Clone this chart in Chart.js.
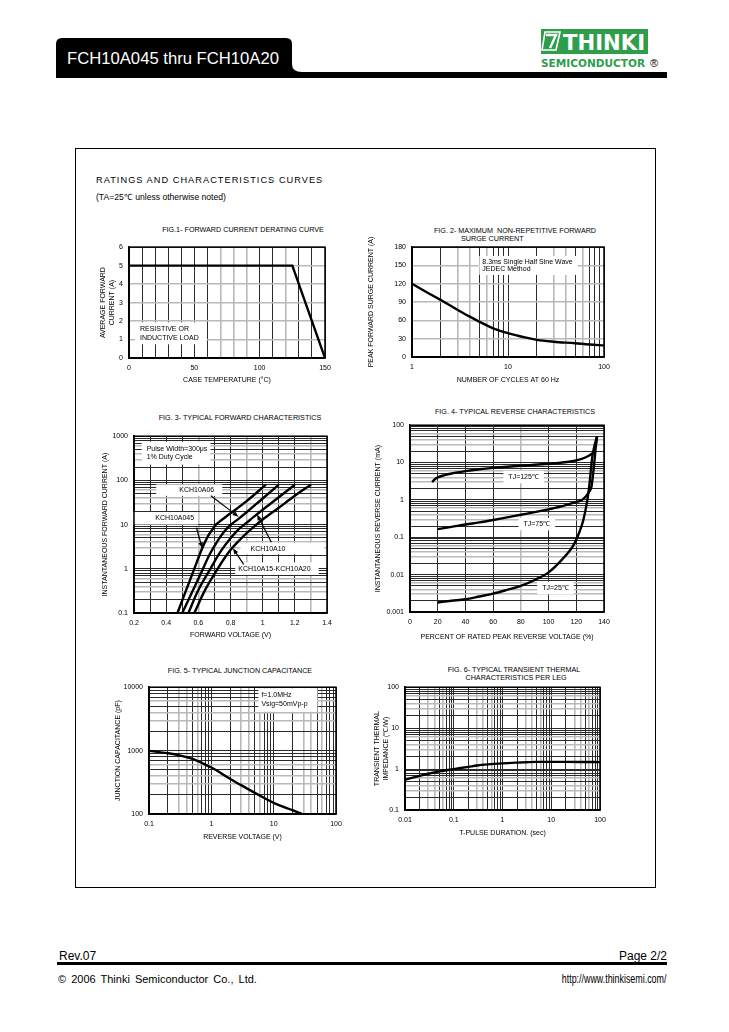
<!DOCTYPE html>
<html>
<head>
<meta charset="utf-8">
<script src="https://cdn.jsdelivr.net/npm/chart.js@4.4.1/dist/chart.umd.min.js"></script>
<style>
  body { margin: 0; background: #fff; font-family: "Liberation Sans", Arial, sans-serif; color: #000; }
  #page { position: relative; width: 729px; height: 1032px; overflow: hidden; }
  .abs { position: absolute; white-space: nowrap; }
  .ft { font-size: 7.2px; transform: translate(-50%, -50%); }
  canvas { position: absolute; }
</style>
</head>
<body>
<div id="page">
  <svg class="abs" style="left:0;top:0" width="729" height="90">
    <path d="M56 78 V44 Q56 38 62 38 H286 Q292 38 292 44 V64 Q292 72 302 72 H667 V78 Z" fill="#000"/>
    <text x="67" y="64" fill="#fff" font-size="16" font-family="Liberation Sans, Arial" textLength="212" lengthAdjust="spacingAndGlyphs">FCH10A045 thru FCH10A20</text>
    <rect x="541" y="29" width="107" height="25" fill="#2f9e4b"/>
    <path d="M545 32 H560 L556 50 H542 Z" fill="none" stroke="#fff" stroke-width="1.6"/>
    <path d="M546 35 H556 L550 48" fill="none" stroke="#fff" stroke-width="2.4"/>
    <text x="563" y="50" fill="#fff" font-size="21" font-weight="bold" font-family="DejaVu Sans, Arial" textLength="82" lengthAdjust="spacingAndGlyphs">THINKI</text>
    <text x="541" y="67" fill="#2f9e4b" font-size="10" font-weight="bold" font-family="DejaVu Sans, Arial" textLength="104" lengthAdjust="spacingAndGlyphs">SEMICONDUCTOR</text>
    <text x="650" y="67" fill="#000" font-size="11" font-family="Liberation Sans, Arial">®</text>
  </svg>

  <div class="abs" style="left:75px;top:148px;width:579px;height:738px;border:1px solid #000;"></div>
  <div class="abs" style="left:96px;top:175px;font-size:9.2px;letter-spacing:1.05px;">RATINGS AND CHARACTERISTICS CURVES</div>
  <div class="abs" style="left:96px;top:191px;font-size:8.6px;">(TA=25℃ unless otherwise noted)</div>

  <div class="abs ft" style="left:243px;top:229px;">FIG.1- FORWARD CURRENT DERATING CURVE</div>
  <div class="abs ft" style="left:515px;top:230px;">FIG. 2- MAXIMUM&nbsp; NON-REPETITIVE FORWARD</div>
  <div class="abs" style="left:461px;top:234px;font-size:7.2px;">SURGE CURRENT</div>
  <div class="abs ft" style="left:240px;top:417px;">FIG. 3- TYPICAL FORWARD CHARACTERISTICS</div>
  <div class="abs ft" style="left:515px;top:411px;">FIG. 4- TYPICAL REVERSE CHARACTERISTICS</div>
  <div class="abs ft" style="left:240px;top:670px;">FIG. 5- TYPICAL JUNCTION CAPACITANCE</div>
  <div class="abs ft" style="left:514px;top:669px;">FIG. 6- TYPICAL TRANSIENT THERMAL</div>
  <div class="abs ft" style="left:516px;top:677px;">CHARACTERISTICS PER LEG</div>

  <canvas id="fig1"></canvas>
  <canvas id="fig2"></canvas>
  <canvas id="fig3"></canvas>
  <canvas id="fig4"></canvas>
  <canvas id="fig5"></canvas>
  <canvas id="fig6"></canvas>

  <div class="abs" style="left:59px;top:949px;font-size:12px;">Rev.07</div>
  <div class="abs" style="right:62px;top:949px;font-size:12px;">Page 2/2</div>
  <div class="abs" style="left:57px;top:962px;width:610px;height:3px;background:#000;"></div>
  <div class="abs" style="left:58px;top:973px;font-size:11px;word-spacing:2px;">© 2006 Thinki Semiconductor Co., Ltd.</div>
  <div class="abs" style="right:63px;top:972px;font-size:12px;transform:scaleX(0.74);transform-origin:right center;">http://www.thinkisemi.com/</div>
</div>

<script>
// Fig.1 forward current derating
const fig1Temp = [0, 125, 150];
const fig1Current = [5, 5, 0];
const fig1XLabels = [0, 50, 100, 150];

// Fig.2 surge current vs cycles
const fig2Cycles = [1, 1.5, 2, 3, 4, 5, 7, 10, 15, 20, 30, 50, 70, 100];
const fig2Current = [120, 104, 93, 77, 66, 58, 47, 39, 32, 28, 25, 22.5, 20.5, 19];
const fig2XLabels = [1, 10, 100];

// Fig.3 forward characteristics (V, A)
const fig3VA045 = [0.47, 0.52, 0.575, 0.62, 0.66, 0.69, 0.705, 0.72, 0.8, 0.9, 1.02];
const fig3IA045 = [0.1, 0.3, 1, 2.7, 5.5, 8, 9.6, 10.8, 18, 34, 80];
const fig3VA06 = [0.5, 0.56, 0.62, 0.67, 0.72, 0.76, 0.8, 0.85, 0.9, 1.0, 1.1];
const fig3IA06 = [0.1, 0.29, 0.85, 2.1, 4.3, 6.9, 9.8, 13.5, 19, 39, 80];
const fig3VA10 = [0.538, 0.6, 0.675, 0.74, 0.8, 0.85, 0.9, 0.95, 1.05, 1.2];
const fig3IA10 = [0.1, 0.33, 1, 2.5, 4.9, 7.8, 11, 15.5, 30, 80];
const fig3VA20 = [0.575, 0.64, 0.72, 0.79, 0.86, 0.93, 1.0, 1.1, 1.2, 1.3];
const fig3IA20 = [0.1, 0.32, 1, 2.4, 4.6, 8, 13, 24, 45, 80];
const fig3XLabels = ['0.2', '0.4', '0.6', '0.8', '1', '1.2', '1.4'];
const fig3YLabels = ['0.1', '1', '10', '100', '1000'];

// Fig.4 reverse characteristics (% of VRRM, mA)
const fig4P125 = [16, 18, 20, 25, 30, 40, 50, 60, 70, 80, 90, 100, 110, 118, 124, 128, 131, 133, 134, 135];
const fig4I125 = [3, 3.6, 4, 4.6, 5.1, 5.9, 6.6, 7.2, 7.7, 8.2, 8.7, 9.3, 10, 11, 12.5, 14.5, 17, 20, 30, 50];
const fig4P75 = [20, 30, 40, 50, 60, 70, 80, 90, 100, 110, 118, 124, 127, 129.5, 131, 132, 133, 134, 135];
const fig4I75 = [0.165, 0.19, 0.22, 0.25, 0.29, 0.34, 0.4, 0.47, 0.56, 0.68, 0.84, 1.0, 1.25, 1.7, 2.3, 4.5, 10, 25, 50];
const fig4P25 = [20, 30, 40, 50, 60, 70, 80, 90, 100, 110, 118, 122, 125, 128, 129.5, 131.5, 133.3, 135];
const fig4I25 = [0.0018, 0.002, 0.0022, 0.0026, 0.0031, 0.0039, 0.005, 0.0072, 0.0115, 0.026, 0.062, 0.13, 0.28, 1.0, 2.6, 14, 30, 50];
const fig4XLabels = [0, 20, 40, 60, 80, 100, 120, 140];
const fig4YLabels = ['0.001', '0.01', '0.1', '1', '10', '100'];

// Fig.5 junction capacitance (V, pF)
const fig5Volt = [0.1, 0.2, 0.3, 0.5, 0.7, 1, 2, 3, 5, 10, 20, 28];
const fig5Cap = [990, 910, 850, 740, 640, 540, 360, 285, 215, 150, 115, 101];
const fig5XLabels = ['0.1', '1', '10', '100'];
const fig5YLabels = ['100', '1000', '10000'];

// Fig.6 transient thermal impedance (sec, C/W)
const fig6Time = [0.01, 0.02, 0.03, 0.05, 0.1, 0.2, 0.3, 0.5, 1, 2, 3, 5, 10, 20, 50, 100];
const fig6Imp = [0.55, 0.68, 0.77, 0.88, 1.0, 1.13, 1.22, 1.3, 1.38, 1.44, 1.47, 1.5, 1.5, 1.5, 1.49, 1.48];
const fig6XLabels = ['0.01', '0.1', '1', '10', '100'];
const fig6YLabels = ['0.1', '1', '10', '100'];

const FAMILY = '"Liberation Sans", Arial, sans-serif';
Chart.defaults.font.family = FAMILY;
Chart.defaults.font.size = 7;
Chart.defaults.color = '#000';

const DARK = '#2a2a2a', GRAY = '#b9b9b9';
const pts = (xs, ys) => xs.map((x, i) => ({x, y: ys[i]}));
const isDecade = v => Math.abs(Math.log10(v) - Math.round(Math.log10(v))) < 1e-6;
const decadeIndex = (v, min) => Math.round(Math.log10(v) - Math.log10(min));

function logTickValues(min, max) {
  const out = [];
  for (let e = Math.round(Math.log10(min)); e < Math.round(Math.log10(max)); e++) {
    for (let s = 1; s < 10; s++) out.push(s * Math.pow(10, e));
  }
  out.push(max);
  return out;
}
function significand(v) {
  return Math.round(v / Math.pow(10, Math.floor(Math.log10(v) + 1e-9)));
}
const logGridColor = c => [3, 4, 6].includes(significand(c.tick.value)) ? GRAY : DARK;
const logGridWidth = c => [3, 4, 6].includes(significand(c.tick.value)) ? 1.6 : 1;

function logAxis(min, max, labels, size) {
  return {
    type: 'logarithmic', min, max,
    afterBuildTicks: s => { s.ticks = logTickValues(min, max).map(value => ({value})); },
    afterFit: s => { if (s.isHorizontal()) s.height = size; else s.width = size; },
    ticks: {
      autoSkip: false, maxRotation: 0, padding: 6,
      callback: v => isDecade(v) ? String(labels[decadeIndex(v, min)]) : ''
    },
    grid: { color: logGridColor, lineWidth: logGridWidth, drawTicks: false },
    border: { color: '#000', width: 1.5 }
  };
}
function linAxis(min, max, step, labelFn, grays, size) {
  const isGray = v => grays.some(g => Math.abs(g - v) < 1e-6);
  return {
    type: 'linear', min, max,
    afterFit: s => { if (s.isHorizontal()) s.height = size; else s.width = size; },
    ticks: { stepSize: step, autoSkip: false, maxRotation: 0, padding: 6, callback: labelFn },
    grid: {
      color: c => isGray(c.tick.value) ? GRAY : DARK,
      lineWidth: c => isGray(c.tick.value) ? 1.6 : 1,
      drawTicks: false
    },
    border: { color: '#000', width: 1.5 }
  };
}
function withTitle(axis, text) {
  axis.title = { display: true, text, padding: 0, font: { size: 7 } };
  return axis;
}

// frame + text boxes / arrows drawn in data units
function notesPlugin(items) {
  return {
    id: 'notes',
    afterDatasetsDraw(chart) {
      const {ctx, scales: {x, y}, chartArea: a} = chart;
      ctx.save();
      ctx.font = '7px ' + FAMILY;
      items.forEach(n => {
        const px = x.getPixelForValue(n.x), py = y.getPixelForValue(n.y);
        const lh = n.lh || 8.5;
        const w = Math.max(...n.lines.map(l => ctx.measureText(l).width));
        const left = n.align === 'left' ? px : px - w / 2;
        const [pt, pr, pb, pl] = n.pad;
        ctx.fillStyle = '#fff';
        ctx.fillRect(left - pl, py - lh / 2 - pt, w + pl + pr, lh * n.lines.length + pt + pb);
        ctx.fillStyle = '#000';
        ctx.textBaseline = 'middle';
        ctx.textAlign = 'left';
        n.lines.forEach((l, i) => ctx.fillText(l, left, py + i * lh));
        if (n.arrow) {
          const [x1, y1, x2, y2] = n.arrow;
          const ax = x.getPixelForValue(x1), ay = y.getPixelForValue(y1);
          const bx = x.getPixelForValue(x2), by = y.getPixelForValue(y2);
          const ang = Math.atan2(by - ay, bx - ax);
          ctx.strokeStyle = '#000';
          ctx.lineWidth = 1.2;
          ctx.beginPath(); ctx.moveTo(ax, ay);
          ctx.lineTo(bx - 4 * Math.cos(ang), by - 4 * Math.sin(ang)); ctx.stroke();
          ctx.beginPath();
          ctx.moveTo(bx, by);
          ctx.lineTo(bx - 6 * Math.cos(ang) + 2.3 * Math.sin(ang), by - 6 * Math.sin(ang) - 2.3 * Math.cos(ang));
          ctx.lineTo(bx - 6 * Math.cos(ang) - 2.3 * Math.sin(ang), by - 6 * Math.sin(ang) + 2.3 * Math.cos(ang));
          ctx.closePath(); ctx.fill();
        }
      });
      ctx.strokeStyle = '#000';
      ctx.lineWidth = 1.5;
      ctx.strokeRect(a.left, a.top, a.right - a.left, a.bottom - a.top);
      ctx.restore();
    }
  };
}

function curve(data, smooth) {
  return {
    data, showLine: true, borderColor: '#000', borderWidth: 2.4, pointRadius: 0,
    cubicInterpolationMode: smooth ? 'monotone' : 'default', tension: 0
  };
}

// box = chart area on the page; yw / xh = room for y-axis and x-axis
function makeChart(id, box, datasets, xAxis, yAxis, notes) {
  const pad = {left: 2, top: box.pt || 8, right: 18, bottom: 2};
  const cv = document.getElementById(id);
  const left = box.l - box.yw - pad.left, top = box.t - pad.top;
  const w = box.r + pad.right - left, h = box.b + box.xh + pad.bottom - top;
  cv.style.left = left + 'px'; cv.style.top = top + 'px';
  cv.width = w; cv.height = h;
  cv.style.width = w + 'px'; cv.style.height = h + 'px';
  return new Chart(cv.getContext('2d'), {
    type: 'scatter',
    data: { datasets },
    options: {
      responsive: false, animation: false, devicePixelRatio: 1,
      layout: { padding: pad },
      plugins: { legend: { display: false }, tooltip: { enabled: false } },
      scales: { x: xAxis, y: yAxis }
    },
    plugins: [notesPlugin(notes)]
  });
}

// Fig.1
makeChart('fig1', {l: 129, t: 245, r: 325, b: 358, yw: 30, xh: 26},
  [curve(pts(fig1Temp, fig1Current), false)],
  withTitle(linAxis(0, 150, 10, v => fig1XLabels.includes(v) ? String(v) : '', [70, 80, 90, 120], 26), 'CASE TEMPERATURE (°C)'),
  withTitle(linAxis(0, 6, 1, v => String(v), [1, 2, 3, 4, 5, 6], 30), ['AVERAGE FORWARD', 'CURRENT (A)']),
  [{x: 8.4, y: 1.58, lh: 9, align: 'left', lines: ['RESISTIVE OR', 'INDUCTIVE LOAD'], pad: [2, 8, 2, 5]}]
);

// Fig.2
makeChart('fig2', {l: 412, t: 247, r: 604, b: 357, yw: 45, xh: 27, pt: 16},
  [curve(pts(fig2Cycles, fig2Current), true)],
  withTitle(logAxis(1, 100, fig2XLabels, 27), 'NUMBER OF CYCLES AT 60 Hz'),
  withTitle(linAxis(0, 180, 30, v => String(v), [30, 60, 90, 120, 150], 45), 'PEAK FORWARD SURGE CURRENT (A)'),
  [{x: 5.4, y: 156, lh: 7.5, align: 'left', lines: ['8.3ms Single Half Sine Wave', 'JEDEC Method'], pad: [2, 5, 2, 3]}]
);

// Fig.3
makeChart('fig3', {l: 134, t: 434, r: 327, b: 613, yw: 33, xh: 26},
  [curve(pts(fig3VA045, fig3IA045), true), curve(pts(fig3VA06, fig3IA06), true),
   curve(pts(fig3VA10, fig3IA10), true), curve(pts(fig3VA20, fig3IA20), true)],
  withTitle(linAxis(0.2, 1.4, 0.1, v => {
    const k = Math.round((v - 0.2) * 10);
    return k % 2 === 0 ? fig3XLabels[k / 2] : '';
  }, [0.6, 0.9, 1.3], 26), 'FORWARD VOLTAGE (V)'),
  withTitle(logAxis(0.1, 1000, fig3YLabels, 33), 'INSTANTANEOUS FORWARD CURRENT (A)'),
  [
    {x: 0.279, y: 513, lh: 8.4, align: 'left', lines: ['Pulse Width=300μs', '1% Duty Cycle'], pad: [3, 3, 3, 5]},
    {x: 0.59, y: 62, lines: ['KCH10A06'], pad: [1, 8, 2, 23], arrow: [0.678, 45, 0.85, 15]},
    {x: 0.453, y: 13.9, lines: ['KCH10A045'], pad: [2, 4, 2, 22], arrow: [0.588, 8.5, 0.625, 2.9]},
    {x: 1.033, y: 2.82, lines: ['KCH10A10'], pad: [2, 39, 1, 10], arrow: [1.054, 4.0, 0.965, 17]},
    {x: 1.073, y: 1.01, lines: ['KCH10A15-KCH10A20'], pad: [2, 8, 2, 3], arrow: [0.882, 1.26, 0.815, 2.9]}
  ]
);

// Fig.4
makeChart('fig4', {l: 410, t: 423, r: 604, b: 612, yw: 36, xh: 29},
  [curve(pts(fig4P125, fig4I125), true), curve(pts(fig4P75, fig4I75), true), curve(pts(fig4P25, fig4I25), true)],
  withTitle(linAxis(0, 140, 20, v => fig4XLabels.includes(v) ? String(v) : '', [80], 29), 'PERCENT OF RATED PEAK REVERSE VOLTAGE (%)'),
  withTitle(logAxis(0.001, 100, fig4YLabels, 36), 'INSTANTANEOUS REVERSE CURRENT (mA)'),
  [
    {x: 82, y: 4.1, lines: ['TJ=125℃'], pad: [2, 5, 2, 5]},
    {x: 91.5, y: 0.226, lines: ['TJ=75℃'], pad: [2, 5, 2, 5]},
    {x: 105, y: 0.0044, lines: ['TJ=25℃'], pad: [2, 5, 2, 5]}
  ]
);

// Fig.5
makeChart('fig5', {l: 149, t: 685, r: 336, b: 814, yw: 35, xh: 27},
  [curve(pts(fig5Volt, fig5Cap), true)],
  withTitle(logAxis(0.1, 100, fig5XLabels, 27), 'REVERSE VOLTAGE (V)'),
  withTitle(logAxis(100, 10000, fig5YLabels, 35), 'JUNCTION CAPACITANCE (pF)'),
  [{x: 6.36, y: 7430, lh: 8.3, align: 'left', lines: ['f=1.0MHz', 'Vsig=50mVp-p'], pad: [3, 10, 4, 3]}]
);

// Fig.6
makeChart('fig6', {l: 405, t: 685, r: 600, b: 810, yw: 32, xh: 27},
  [curve(pts(fig6Time, fig6Imp), true)],
  withTitle(logAxis(0.01, 100, fig6XLabels, 27), 'T-PULSE DURATION. (sec)'),
  withTitle(logAxis(0.1, 100, fig6YLabels, 32), ['TRANSIENT THERMAL', 'IMPEDANCE (℃/W)']),
  []
);
</script>
</body>
</html>
